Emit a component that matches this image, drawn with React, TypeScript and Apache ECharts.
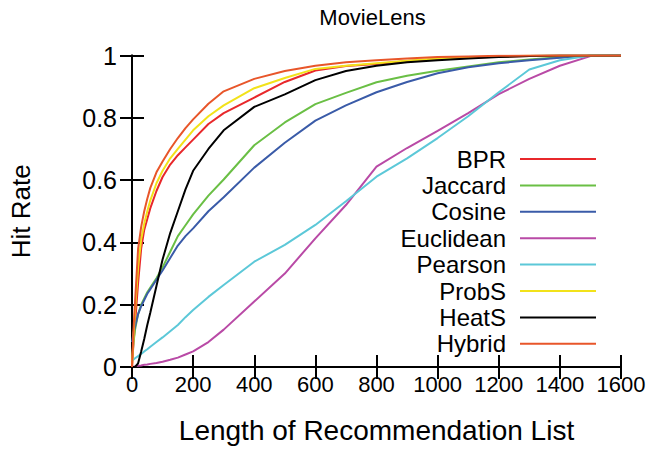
import React, { useEffect, useRef } from "react";
import * as echarts from "echarts";

const lengths = [0, 5, 10, 20, 30, 40, 50, 60, 80, 100, 125, 150, 175, 200, 250, 300, 400, 500, 600, 700, 800, 900, 1000, 1100, 1200, 1300, 1400, 1500, 1600];

const bpr = [0, 0.08, 0.14, 0.27, 0.38, 0.44, 0.475, 0.51, 0.565, 0.61, 0.65, 0.68, 0.705, 0.73, 0.78, 0.815, 0.865, 0.915, 0.952, 0.966, 0.973, 0.982, 0.988, 0.993, 0.996, 0.998, 1, 1, 1];
const jaccard = [0.02, 0.08, 0.12, 0.17, 0.2, 0.22, 0.24, 0.255, 0.285, 0.32, 0.37, 0.42, 0.455, 0.49, 0.55, 0.602, 0.712, 0.785, 0.844, 0.88, 0.914, 0.935, 0.951, 0.965, 0.978, 0.987, 0.994, 0.999, 1];
const cosine = [0.08, 0.11, 0.13, 0.17, 0.195, 0.215, 0.235, 0.25, 0.28, 0.31, 0.35, 0.39, 0.42, 0.445, 0.5, 0.545, 0.64, 0.72, 0.791, 0.84, 0.882, 0.915, 0.943, 0.962, 0.975, 0.985, 0.993, 0.999, 1];
const euclidean = [0, 0.001, 0.002, 0.004, 0.005, 0.007, 0.008, 0.01, 0.013, 0.017, 0.023, 0.03, 0.04, 0.05, 0.08, 0.12, 0.21, 0.3, 0.413, 0.52, 0.643, 0.703, 0.758, 0.815, 0.876, 0.925, 0.967, 0.998, 1];
const pearson = [0.02, 0.024, 0.028, 0.035, 0.042, 0.05, 0.057, 0.065, 0.08, 0.095, 0.115, 0.135, 0.16, 0.183, 0.225, 0.263, 0.338, 0.392, 0.456, 0.532, 0.611, 0.67, 0.735, 0.805, 0.882, 0.955, 0.985, 1, 1];
const probS = [0, 0.1, 0.18, 0.32, 0.41, 0.46, 0.5, 0.535, 0.59, 0.63, 0.67, 0.7, 0.73, 0.76, 0.805, 0.84, 0.895, 0.928, 0.957, 0.967, 0.975, 0.983, 0.99, 0.994, 0.997, 0.999, 1, 1, 1];
const heatS = [0, 0, 0, 0.012, 0.05, 0.09, 0.135, 0.175, 0.26, 0.345, 0.43, 0.5, 0.57, 0.63, 0.7, 0.76, 0.835, 0.875, 0.921, 0.95, 0.967, 0.978, 0.985, 0.99, 0.995, 0.998, 1, 1, 1];
const hybrid = [0, 0.12, 0.21, 0.38, 0.45, 0.5, 0.54, 0.575, 0.625, 0.66, 0.7, 0.735, 0.767, 0.795, 0.845, 0.885, 0.925, 0.95, 0.967, 0.978, 0.985, 0.99, 0.995, 0.997, 0.999, 1, 1, 1, 1];

const seriesNames = ["BPR", "Jaccard", "Cosine", "Euclidean", "Pearson", "ProbS", "HeatS", "Hybrid"];
const seriesValues = [bpr, jaccard, cosine, euclidean, pearson, probS, heatS, hybrid];
const seriesColors = ["#e8282b", "#6abf45", "#3a5ba8", "#b94aa6", "#5cc8d8", "#f2e21a", "#000000", "#e8562a"];

const FONT = "Liberation Sans, Arial, Helvetica, sans-serif";

export default function App() {
  const ref = useRef<HTMLDivElement>(null);
  useEffect(() => {
    if (!ref.current) return;
    const chart = echarts.init(ref.current, null, { renderer: "svg" });
    const axisLine = { show: true, lineStyle: { color: "#000", width: 2 } };
    const axisTick = { show: true, inside: true, length: 12, lineStyle: { color: "#000", width: 2 } };
    chart.setOption({
      animation: false,
      backgroundColor: "#fff",
      textStyle: { fontFamily: FONT },
      graphic: [
        {
          type: "text",
          x: 372.5,
          y: 6,
          style: { text: "MovieLens", textAlign: "center", fontSize: 22, fontFamily: FONT, fill: "#000" },
        },
      ],
      grid: { left: 124, top: 55.5, right: 39, bottom: 87, containLabel: false },
      legend: {
        orient: "vertical",
        right: 59,
        top: 142,
        align: "right",
        icon: "rect",
        itemWidth: 76,
        itemHeight: 2,
        itemGap: 2.4,
        textStyle: { fontSize: 24, lineHeight: 24, color: "#000", fontFamily: FONT, padding: [0, 9, 0, 0] },
        data: seriesNames,
      },
      xAxis: [
        {
          type: "value",
          min: 0,
          max: 1600,
          interval: 200,
          position: "bottom",
          name: "Length of Recommendation List",
          nameLocation: "middle",
          nameGap: 49,
          nameTextStyle: { fontSize: 28, color: "#000", fontFamily: FONT },
          axisLine,
          axisTick,
          axisLabel: { fontSize: 22, color: "#000", margin: 6, fontFamily: FONT, formatter: (v: number) => String(v) },
          splitLine: { show: false },
        },
        {
          type: "value",
          min: 0,
          max: 1600,
          interval: 200,
          position: "top",
          axisLine,
          axisTick,
          axisLabel: { show: false },
          splitLine: { show: false },
        },
      ],
      yAxis: [
        {
          type: "value",
          min: 0,
          max: 1,
          interval: 0.2,
          position: "left",
          name: "Hit Rate",
          nameLocation: "middle",
          nameGap: 98,
          nameRotate: 90,
          nameTextStyle: { fontSize: 26, color: "#000", fontFamily: FONT },
          axisLine,
          axisTick,
          axisLabel: { fontSize: 25, color: "#000", margin: 15, fontFamily: FONT },
          splitLine: { show: false },
        },
        {
          type: "value",
          min: 0,
          max: 1,
          interval: 0.2,
          position: "right",
          axisLine,
          axisTick,
          axisLabel: { show: false },
          splitLine: { show: false },
        },
      ],
      series: seriesNames.map((name, i) => ({
        name,
        type: "line",
        xAxisIndex: 0,
        yAxisIndex: 0,
        data: lengths.map((x, j) => [x, seriesValues[i][j]]),
        symbol: "none",
        smooth: false,
        color: seriesColors[i],
        lineStyle: { color: seriesColors[i], width: 2 },
        z: 2 + i,
      })),
    });
    return () => chart.dispose();
  }, []);
  return <div ref={ref} style={{ position: "fixed", left: 0, top: 0, width: 660, height: 454 }} />;
}
